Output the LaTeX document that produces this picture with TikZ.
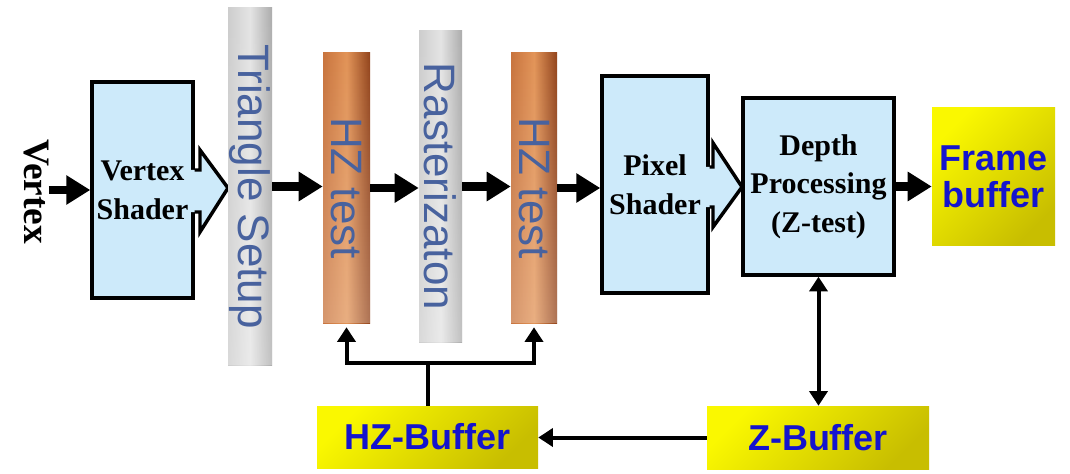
\documentclass[tikz,border=0pt]{standalone}
\usepackage{fontspec}
\setmainfont{Liberation Serif}
\newfontfamily\arialf{Liberation Sans}
\usetikzlibrary{arrows.meta,fadings}
\definecolor{boxblue}{RGB}{205,234,250}
\definecolor{bartext}{RGB}{72,98,158}
\definecolor{fbblue}{RGB}{20,20,205}
\definecolor{ylight}{RGB}{250,248,0}
\definecolor{ydark}{RGB}{200,190,0}
\definecolor{hzleft}{RGB}{200,116,62}
\definecolor{hzmid}{RGB}{226,148,88}
\definecolor{hzright}{RGB}{146,68,28}
\definecolor{gleft}{RGB}{205,205,205}
\definecolor{gmid}{RGB}{228,228,228}
\definecolor{gright}{RGB}{172,172,172}
\tikzfading[name=fadeup, top color=transparent!100, bottom color=transparent!0]
\begin{document}
\begin{tikzpicture}[x=0.75pt,y=-0.75pt,
  shader/.style={draw=black, line width=2.6pt, fill=boxblue, inner sep=0pt, align=center,
    font=\bfseries\fontsize{22.5}{29}\selectfont},
  tabline/.style={draw=black, line width=2.6pt},
  barbase/.style={inner sep=0pt, text=bartext, font=\arialf\fontsize{33}{36}\selectfont,
    path picture={\fill[white, opacity=0.25, path fading=fadeup]
      (path picture bounding box.south west) rectangle (path picture bounding box.north east);}},
  graybar/.style={barbase, left color=gleft, right color=gright, middle color=gmid},
  hzbar/.style={barbase, left color=hzleft, right color=hzright, middle color=hzmid},
  ybox/.style={inner sep=0pt, top color=ylight, bottom color=ydark, shading angle=45,
    text=fbblue, align=center, font=\arialf\bfseries\fontsize{27}{28}\selectfont},
  big/.style={line width=6.5pt, -{Triangle[length=18pt,width=21pt]}},
  conn/.style={line width=3pt, -{Triangle[length=11pt,width=13.5pt]}},
  plain/.style={line width=3pt},
  dbl/.style={line width=3pt, {Triangle[length=11pt,width=13.5pt]}-{Triangle[length=11pt,width=13.5pt]}}
]
\fill[white] (0,0) rectangle (1070,474);
\useasboundingbox (0,0) rectangle (1070,474);

% input label
\node[inner sep=0pt, font=\bfseries\fontsize{28}{30}\selectfont] (vtx) at (36,192) {\rotatebox{-90}{Vertex}};

% shaders
\node[shader, minimum width=75.75pt, minimum height=162pt] (vs) at (142.5,190) {Vertex\\Shader};
\fill[boxblue] (190,170) -- (200,170) -- (200,150) -- (228,188) -- (200,232) -- (200,212) -- (190,212) -- cycle;
\draw[tabline] (vs.east |- 0,170) -- (200,170) -- (200,150) -- (228,188) -- (200,232) -- (200,212) -- (vs.east |- 0,212);

\node[shader, minimum width=79.5pt, minimum height=162.75pt] (ps) at (655,184.5) {Pixel\\Shader};
\fill[boxblue] (705,167) -- (713,167) -- (713,143) -- (742,187) -- (713,227) -- (713,207) -- (705,207) -- cycle;
\draw[tabline] (ps.east |- 0,167) -- (713,167) -- (713,143) -- (742,187) -- (713,227) -- (713,207) -- (ps.east |- 0,207);

\node[shader, minimum width=113.25pt, minimum height=132.75pt] (dp) at (818.5,186.5) {Depth\\Processing\\(Z-test)};

% bars
\node[graybar, minimum width=33pt, minimum height=267.75pt] (ts) at (250,186.5) {\rotatebox{-90}{Triangle Setup}};
\node[hzbar, minimum width=35.25pt, minimum height=202.5pt] (hz1) at (346.5,188) {\rotatebox{-90}{HZ test}};
\node[graybar, minimum width=32.25pt, minimum height=233.25pt] (ra) at (440.5,186.5) {\rotatebox{-90}{Rasterizaton}};
\node[hzbar, minimum width=34.5pt, minimum height=202.5pt] (hz2) at (534,188) {\rotatebox{-90}{HZ test}};

% yellow boxes
\node[ybox, minimum width=92.25pt, minimum height=102.75pt] (fb) at (993.5,176.5) {Frame\\buffer};
\node[ybox, minimum width=165.75pt, minimum height=46.5pt] (hzb) at (427.5,437) {HZ-Buffer};
\node[ybox, minimum width=166.5pt, minimum height=47.25pt] (zb) at (818,437.5) {Z-Buffer};

% main flow
\draw[big] (vtx.east |- vs.west) -- (vs.west);
\draw[big] (ts.east) -- (ts.east -| hz1.west);
\draw[big] (hz1.east) -- (hz1.east -| ra.west);
\draw[big] (ra.east) -- (ra.east -| hz2.west);
\draw[big] (hz2.east) -- (hz2.east -| ps.west);
\draw[big] (dp.east) -- (dp.east -| fb.west);

% buffers
\coordinate (j) at (hzb.north |- 0,363);
\draw[plain] (hzb.north) -- (j);
\draw[conn, shorten >=3pt] (j) -| (hz1.south);
\draw[conn, shorten >=3pt] (j) -| (hz2.south);
\draw[conn] (zb.west) -- (zb.west -| hzb.east);
\draw[dbl] (dp.south) -- (dp.south |- zb.north);
\end{tikzpicture}
\end{document}
